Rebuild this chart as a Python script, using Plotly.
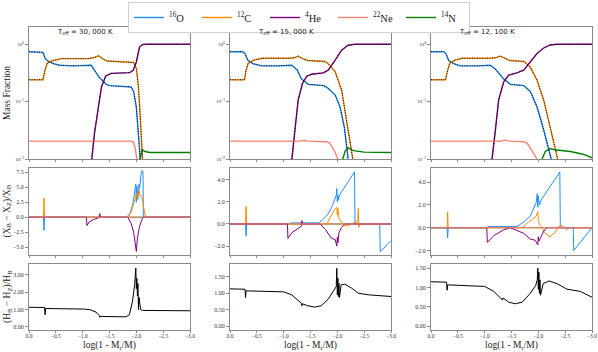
import plotly.graph_objs as go

W, H = 598, 352

# ---- top row: mass fractions (x = log(1 - Mr/M))
o30_x = [0, -0.2, -0.26, -0.3, -0.35, -0.45, -0.57, -0.8, -1.16, -1.3, -1.44, -1.5, -1.9, -1.95, -2.0, -2.05, -2.08, -2.1]
o30_y = [0.74, 0.74, 0.72, 0.57, 0.51, 0.46, 0.43, 0.42, 0.43, 0.27, 0.2, 0.19, 0.18, 0.15, 0.08, 0.02, 0.01, 0.004]
c30_x = [0, -0.26, -0.3, -0.34, -0.45, -0.6, -1.1, -1.2, -1.3, -1.37, -1.45, -1.9, -1.95, -2.0, -2.04, -2.07, -2.11, -2.14]
c30_y = [0.24, 0.24, 0.36, 0.47, 0.52, 0.56, 0.56, 0.58, 0.63, 0.56, 0.51, 0.49, 0.48, 0.38, 0.18, 0.06, 0.01, 0.004]
he30_x = [-1.12, -1.17, -1.22, -1.29, -1.35, -1.43, -1.53, -1.88, -1.94, -2.0, -2.06, -2.12, -2.2, -3.0]
he30_y = [0.005, 0.01, 0.028, 0.085, 0.18, 0.28, 0.31, 0.32, 0.35, 0.49, 0.9, 0.99, 1.0, 1.0]
ne30_x = [0, -1.9, -1.95, -1.98, -2.01, -2.04]
ne30_y = [0.0205, 0.0205, 0.0195, 0.015, 0.01, 0.006]
n30_x = [-2.05, -2.07, -2.11, -2.16, -2.25, -3.0]
n30_y = [0.006, 0.01, 0.0145, 0.0135, 0.013, 0.013]

o15_x = [0, -0.24, -0.28, -0.33, -0.42, -0.59, -0.9, -1.15, -1.25, -1.33, -1.46, -1.75, -1.83, -1.96, -2.05, -2.13, -2.19, -2.23]
o15_y = [0.74, 0.74, 0.68, 0.53, 0.46, 0.42, 0.42, 0.43, 0.36, 0.25, 0.2, 0.19, 0.17, 0.13, 0.081, 0.036, 0.0125, 0.005]
c15_x = [0, -0.27, -0.3, -0.34, -0.45, -0.6, -1.1, -1.2, -1.27, -1.35, -1.45, -1.77, -1.83, -1.96, -2.08, -2.17, -2.25, -2.3, -2.34]
c15_y = [0.24, 0.24, 0.35, 0.47, 0.53, 0.57, 0.57, 0.58, 0.62, 0.56, 0.52, 0.5, 0.46, 0.33, 0.158, 0.054, 0.019, 0.01, 0.005]
he15_x = [-1.12, -1.15, -1.21, -1.27, -1.35, -1.43, -1.52, -1.74, -1.83, -1.96, -2.08, -2.2, -2.33, -3.0]
he15_y = [0.005, 0.01, 0.032, 0.106, 0.207, 0.277, 0.3, 0.317, 0.353, 0.527, 0.787, 0.96, 1.0, 1.0]
ne15_x = [0, -1.3, -1.38, -1.45, -1.8, -1.86, -1.96, -2.01, -2.05]
ne15_y = [0.0205, 0.0205, 0.0212, 0.0205, 0.02, 0.019, 0.013, 0.01, 0.006]
n15_x = [-2.06, -2.1, -2.15, -2.2, -2.3, -2.5, -3.0]
n15_y = [0.006, 0.01, 0.014, 0.0157, 0.014, 0.0132, 0.013]

o12_x = [0, -0.24, -0.28, -0.33, -0.42, -0.55, -0.9, -1.1, -1.2, -1.35, -1.48, -1.73, -1.85, -1.975, -2.1, -2.19, -2.24, -2.28]
o12_y = [0.74, 0.74, 0.68, 0.52, 0.46, 0.42, 0.42, 0.43, 0.37, 0.25, 0.2, 0.19, 0.15, 0.081, 0.032, 0.0144, 0.01, 0.005]
c12_x = [0, -0.27, -0.31, -0.35, -0.45, -0.58, -1.1, -1.2, -1.29, -1.38, -1.47, -1.73, -1.85, -1.975, -2.1, -2.22, -2.32, -2.36, -2.4]
c12_y = [0.24, 0.24, 0.35, 0.47, 0.53, 0.57, 0.57, 0.58, 0.62, 0.56, 0.52, 0.5, 0.4, 0.237, 0.106, 0.036, 0.0144, 0.01, 0.005]
he12_x = [-1.1, -1.14, -1.2, -1.26, -1.354, -1.447, -1.6, -1.727, -1.85, -1.975, -2.1, -2.22, -2.35, -3.0]
he12_y = [0.005, 0.01, 0.032, 0.106, 0.22, 0.29, 0.317, 0.353, 0.49, 0.69, 0.86, 0.97, 1.0, 1.0]
ne12_x = [0, -1.3, -1.38, -1.46, -1.73, -1.79, -1.88, -1.975, -2.02]
ne12_y = [0.0205, 0.0205, 0.0213, 0.0205, 0.02, 0.019, 0.014, 0.01, 0.006]
n12_x = [-2.04, -2.07, -2.13, -2.22, -2.3, -2.6, -2.85, -3.0]
n12_y = [0.006, 0.01, 0.0135, 0.0152, 0.0145, 0.0135, 0.012, 0.0105]

# ---- middle row: (X_B - X_Z)/X_B in percent
zero_x = [0, -3.0]
zero_y = [0, 0]

do30_x = [0, -0.27, -0.28, -0.29, -1.82, -1.88, -1.93, -1.97, -1.99, -2.0, -2.01, -2.03, -2.05, -2.06, -2.09, -2.11, -2.125, -2.13, -3.0]
do30_y = [0, 0, -2.2, 0, 0, 0.6, 2.0, 4.0, 5.5, 2.5, 5.2, 3.0, 5.5, 4.8, 7.3, 7.8, 7.5, 0, 0]
dc30_x = [0, -0.27, -0.28, -0.29, -1.85, -1.9, -1.96, -2.0, -2.02, -2.05, -2.07, -2.1, -2.13, -2.17, -3.0]
dc30_y = [0, 0, 3.2, 0, 0, 0.8, 2.5, 4.0, 3.0, 4.5, 3.6, 3.5, 2.0, 0, 0]
dhe30_x = [0, -1.07, -1.08, -1.12, -1.2, -1.3, -1.32, -1.33, -1.84, -1.9, -1.95, -1.98, -2.0, -2.02, -2.04, -2.06, -2.1, -2.13, -3.0]
dhe30_y = [0, 0, -1.4, -0.8, -0.4, -0.1, 0.6, 0, 0, -1.0, -2.5, -4.0, -5.7, -3.5, -2.5, -1.5, -0.5, 0, 0]

do15_x = [0, -0.29, -0.3, -0.31, -1.1, -1.12, -1.65, -1.71, -1.83, -1.92, -1.98, -1.99, -2.0, -2.01, -2.02, -2.04, -2.32, -2.33, -2.79, -2.8, -3.0]
do15_y = [0, 0, -1.1, 0, 0, 0.1, 0.1, 0.3, 0.9, 1.8, 2.6, 3.2, 2.0, 2.6, 2.2, 2.6, 4.7, 0, 0, -2.5, -1.5]
dc15_x = [0, -0.29, -0.3, -0.31, -1.82, -1.83, -1.95, -1.99, -2.0, -2.01, -2.03, -2.08, -2.14, -2.22, -2.3, -2.38, -2.39, -2.4, -2.41, -3.0]
dc15_y = [0, 0, 1.6, 0, 0, 0.3, 1.3, 1.5, 0.8, 1.4, 0.5, 0.2, -0.2, -0.1, 0.1, 0.2, 1.4, -0.3, 0, 0]
dhe15_x = [0, -1.07, -1.08, -1.15, -1.27, -1.33, -1.34, -1.35, -1.68, -1.78, -1.89, -1.96, -1.99, -2.0, -2.01, -2.03, -2.08, -2.14, -3.0]
dhe15_y = [0, 0, -1.3, -0.8, -0.4, -0.2, 0.3, 0, 0, -0.5, -1.3, -1.4, -2.0, -1.2, -1.7, -0.8, -0.3, 0, 0]

do12_x = [0, -0.3, -0.31, -0.32, -1.05, -1.06, -1.6, -1.73, -1.85, -1.96, -1.98, -1.99, -2.0, -2.02, -2.06, -2.4, -2.41, -2.65, -2.66, -3.0]
do12_y = [0, 0, -0.9, 0, 0, 0.1, 0.1, 0.5, 1.0, 2.2, 3.0, 1.8, 2.8, 2.0, 2.5, 4.9, 0, 0, -2.0, 0]
dc12_x = [0, -0.3, -0.31, -0.32, -1.7, -1.79, -1.96, -1.99, -2.0, -2.02, -2.13, -2.22, -2.31, -2.38, -2.44, -2.53, -2.56, -3.0]
dc12_y = [0, 0, 1.4, 0, 0, 0.4, 1.0, 1.4, 0.6, 0.3, -0.5, -0.8, -0.4, 0.1, 0.2, -0.2, 0, 0]
dhe12_x = [0, -1.04, -1.05, -1.17, -1.35, -1.48, -1.73, -1.85, -1.94, -1.99, -2.0, -2.01, -2.1, -2.16, -3.0]
dhe12_y = [0, 0, -1.3, -0.7, -0.2, 0, -0.5, -1.0, -1.1, -1.5, -0.8, -1.2, -0.3, 0, 0]

# ---- bottom row: (H_B - H_Z)/H_B in percent
h30_x = [0, -0.29, -0.3, -0.31, -1.0, -1.13, -1.25, -1.31, -1.32, -1.33, -1.38, -1.81, -1.87, -1.93, -1.97, -1.99, -2.0, -2.01, -2.02, -2.03, -2.04, -2.05, -2.08, -2.12, -3.0]
h30_y = [1.13, 1.12, 0.7, 1.06, 1.03, 1.0, 0.85, 0.65, 0.55, 0.62, 0.6, 0.58, 0.7, 1.5, 2.5, 3.4, 2.2, 2.8, 1.8, 2.5, 1.0, 1.7, 1.0, 0.95, 0.93]
h15_x = [0, -0.28, -0.29, -0.3, -1.0, -1.15, -1.27, -1.33, -1.34, -1.35, -1.45, -1.58, -1.7, -1.83, -1.92, -1.98, -1.99, -2.0, -2.01, -2.02, -2.03, -2.04, -2.07, -2.14, -2.27, -2.39, -2.58, -3.0]
h15_y = [1.13, 1.12, 0.87, 1.07, 1.04, 0.95, 0.78, 0.7, 0.62, 0.68, 0.62, 0.58, 0.62, 0.82, 1.05, 1.2, 1.75, 0.95, 1.45, 0.9, 1.3, 0.87, 1.25, 1.27, 1.15, 1.0, 0.95, 0.9]
h12_x = [0, -0.29, -0.3, -0.31, -0.8, -1.0, -1.17, -1.29, -1.33, -1.34, -1.45, -1.57, -1.7, -1.85, -1.95, -1.98, -1.99, -2.0, -2.01, -2.02, -2.03, -2.04, -2.09, -2.2, -2.35, -2.53, -2.78, -3.0]
h12_y = [1.15, 1.14, 0.93, 1.07, 1.04, 1.03, 0.9, 0.75, 0.68, 0.73, 0.62, 0.58, 0.62, 0.85, 1.05, 1.2, 1.5, 0.95, 1.4, 0.85, 1.2, 0.8, 1.1, 1.17, 1.1, 0.96, 0.9, 0.75]

teff_labels = ["T<sub>eff</sub> = 30, 000 K", "T<sub>eff</sub> = 15, 000 K", "T<sub>eff</sub> = 12, 100 K"]
species = ["<sup>16</sup>O", "<sup>12</sup>C", "<sup>4</sup>He", "<sup>22</sup>Ne", "<sup>14</sup>N"]
colors = ["#1e90ff", "#ff8c00", "#800080", "#fa8072", "#008000"]

top = [
    [(o30_x, o30_y), (c30_x, c30_y), (he30_x, he30_y), (ne30_x, ne30_y), (n30_x, n30_y)],
    [(o15_x, o15_y), (c15_x, c15_y), (he15_x, he15_y), (ne15_x, ne15_y), (n15_x, n15_y)],
    [(o12_x, o12_y), (c12_x, c12_y), (he12_x, he12_y), (ne12_x, ne12_y), (n12_x, n12_y)],
]
mid = [
    [(do30_x, do30_y), (dc30_x, dc30_y), (dhe30_x, dhe30_y), (zero_x, zero_y), (zero_x, zero_y)],
    [(do15_x, do15_y), (dc15_x, dc15_y), (dhe15_x, dhe15_y), (zero_x, zero_y), (zero_x, zero_y)],
    [(do12_x, do12_y), (dc12_x, dc12_y), (dhe12_x, dhe12_y), (zero_x, zero_y), (zero_x, zero_y)],
]
bot = [(h30_x, h30_y), (h15_x, h15_y), (h12_x, h12_y)]

# pixel boxes of the panels
col_px = [(29, 190), (230, 391), (431, 592)]
row_px = [(27, 159), (168, 255), (264, 330)]
mid_ranges = [[-6.3, 8.2], [-2.8, 5.05], [-2.4, 5.25]]
mid_ticks = [[-5, -2.5, 0, 2.5, 5, 7.5], [-2, 0, 2, 4], [-2, 0, 2, 4]]
bot_ranges = [[-0.18, 3.63], [-0.11, 1.88], [-0.1, 1.61]]
bot_ticks = [[0, 1, 2, 3], [0, 0.5, 1, 1.5], [0, 0.5, 1, 1.5]]

SERIF = "Liberation Serif, Times New Roman, serif"
SPINE = "#8a8a8a"

fig = go.Figure()
layout = {}


def ax_id(r, c):
    return r * 3 + c + 1


for c in range(3):
    for r in range(3):
        k = ax_id(r, c)
        xa = "x" if k == 1 else "x%d" % k
        ya = "y" if k == 1 else "y%d" % k
        if r == 0:
            for i, (xs, ys) in enumerate(top[c]):
                fig.add_trace(go.Scatter(x=xs, y=ys, mode="lines", name=species[i],
                                         line=dict(color=colors[i], width=1.4),
                                         showlegend=(c == 0), legendrank=i + 1,
                                         xaxis=xa, yaxis=ya))
            for i in range(3):
                xs, ys = top[c][i]
                fig.add_trace(go.Scatter(x=xs, y=ys, mode="lines",
                                         line=dict(color="black", width=1, dash="1px,1.5px"),
                                         showlegend=False, xaxis=xa, yaxis=ya))
        elif r == 1:
            for i in [4, 0, 1, 2, 3]:
                xs, ys = mid[c][i]
                fig.add_trace(go.Scatter(x=xs, y=ys, mode="lines",
                                         line=dict(color=colors[i], width=1),
                                         showlegend=False, xaxis=xa, yaxis=ya))
        else:
            xs, ys = bot[c]
            fig.add_trace(go.Scatter(x=xs, y=ys, mode="lines",
                                     line=dict(color="black", width=1),
                                     showlegend=False, xaxis=xa, yaxis=ya))

        x0, x1 = col_px[c]
        y0, y1 = row_px[r]
        xaxis = dict(domain=[x0 / W, x1 / W], anchor=ya, range=[0, -3],
                     tickvals=[0, -0.5, -1, -1.5, -2, -2.5, -3], tickformat=".1f",
                     showticklabels=(r == 2), ticks="outside", ticklen=2,
                     ticklabelstandoff=-2,
                     tickcolor=SPINE, showline=True, linecolor=SPINE, linewidth=1,
                     mirror=True, showgrid=False, zeroline=False, automargin=False,
                     tickfont=dict(family=SERIF, size=5.5, color="#333"))
        yaxis = dict(domain=[1 - y1 / H, 1 - y0 / H], anchor=xa, ticks="outside",
                     ticklen=3, tickcolor=SPINE, showline=True, linecolor=SPINE,
                     linewidth=1, mirror=True, showgrid=False, zeroline=False,
                     automargin=False, tickfont=dict(family=SERIF, size=6, color="#333"))
        if r == 0:
            yaxis.update(type="log", range=[-2, 0.3], tickvals=[0.01, 0.1, 1],
                         ticktext=["10<sup>−2</sup>", "10<sup>−1</sup>", "10<sup>0</sup>"],
                         tickfont=dict(family=SERIF, size=5, color="#333"))
        elif r == 1:
            yaxis.update(range=mid_ranges[c], tickvals=mid_ticks[c],
                         tickformat=".1f", ticksuffix="%")
        else:
            yaxis.update(range=bot_ranges[c], tickvals=bot_ticks[c],
                         tickformat=".2f", ticksuffix="%")
        layout["xaxis" if k == 1 else "xaxis%d" % k] = xaxis
        layout["yaxis" if k == 1 else "yaxis%d" % k] = yaxis

annotations = []
for c in range(3):
    annotations.append(dict(text=teff_labels[c], x=(col_px[c][0] + 26) / W, y=1 - 32 / H,
                            xref="paper", yref="paper", xanchor="left", yanchor="middle",
                            showarrow=False, font=dict(family="DejaVu Sans", size=7, color="#222")))
    annotations.append(dict(text="log(1 - M<sub>r</sub>/M)", x=sum(col_px[c]) / 2 / W,
                            y=0, xref="paper", yref="paper", xanchor="center",
                            yanchor="bottom", borderpad=0, showarrow=False,
                            font=dict(family=SERIF, size=9.5, color="#222")))
ytitles = ["Mass Fraction", "(X<sub>B</sub> − X<sub>Z</sub>)/X<sub>B</sub>",
           "(H<sub>B</sub> − H<sub>Z</sub>)/H<sub>B</sub>"]
for r in range(3):
    annotations.append(dict(text=ytitles[r], x=7 / W, y=1 - sum(row_px[r]) / 2 / H,
                            xref="paper", yref="paper", xanchor="center", yanchor="middle",
                            textangle=-90, showarrow=False,
                            font=dict(family=SERIF, size=9.5, color="#222")))

fig.update_layout(
    width=W, height=H, margin=dict(l=0, r=0, t=0, b=0),
    template="none", plot_bgcolor="white", paper_bgcolor="white",
    annotations=annotations,
    legend=dict(orientation="h", x=0.5, xanchor="center", y=1 - 2 / H, yanchor="top",
                font=dict(family=SERIF, size=10.5, color="#222"),
                bordercolor="#d0d0d0", borderwidth=1, bgcolor="white",
                entrywidth=23, entrywidthmode="pixels", traceorder="normal"),
    **layout,
)

# page body has a default 8px margin, drop it so the figure fills the window
fig.write_html("out.html", config={"displayModeBar": False},
               post_script="document.body.style.margin='0px';")
